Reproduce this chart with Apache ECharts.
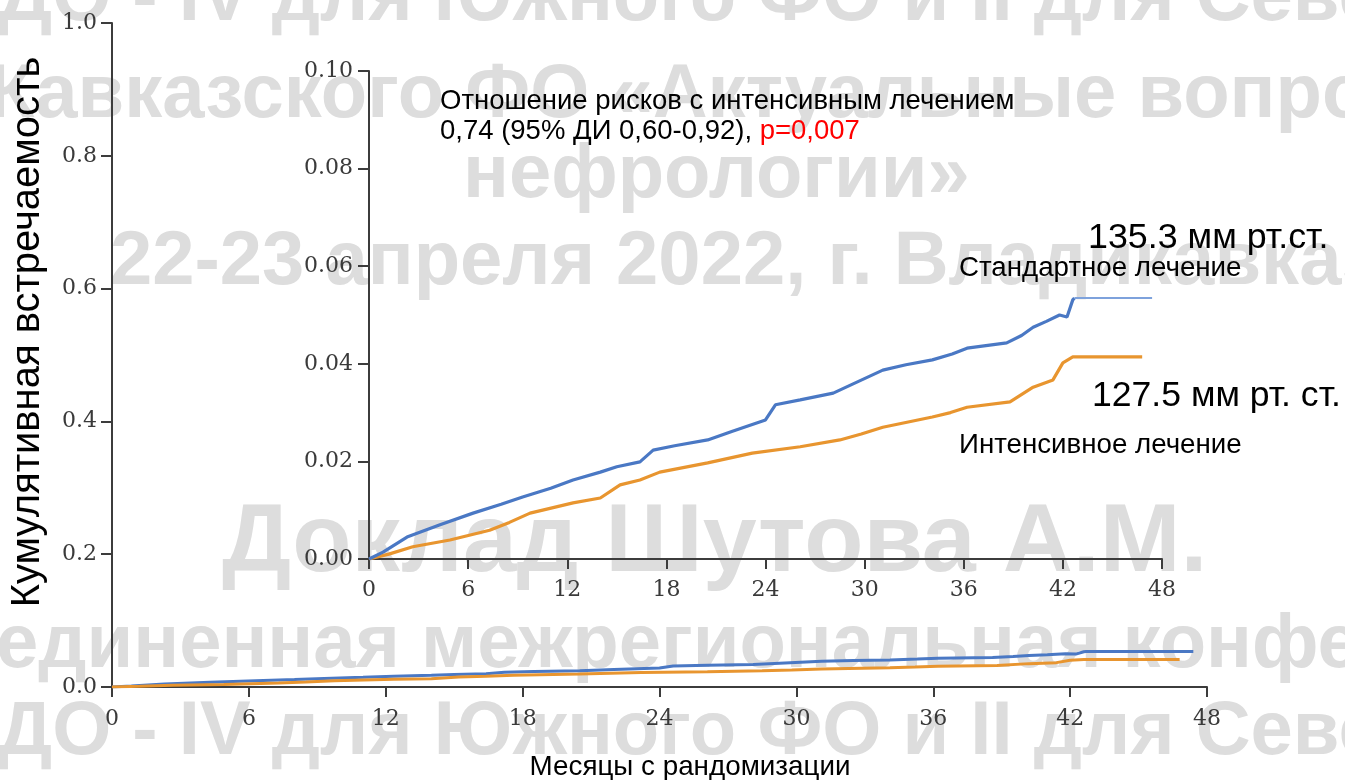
<!DOCTYPE html>
<html>
<head>
<meta charset="utf-8">
<script src="https://cdn.jsdelivr.net/npm/echarts@6/dist/echarts.min.js"></script>
<style>
html,body{margin:0;padding:0;background:#fff;}
#chart{width:1345px;height:780px;}
</style>
</head>
<body>
<div id="chart"></div>
<script>
// ---- data ----
const xTicks = [0, 6, 12, 18, 24, 30, 36, 42, 48];
const mainYTicks = ['0.0', '0.2', '0.4', '0.6', '0.8', '1.0'];
const insetYTicks = ['0.00', '0.02', '0.04', '0.06', '0.08', '0.10'];

const standardMonths = [0, 0.85, 2.3, 4.3, 6.3, 8.0, 9.3, 11.0, 12.35, 14.0, 15.0, 16.4, 17.2, 18.5, 20.5, 22.0, 24.0, 24.6, 26.1, 28.1, 29.5, 31.1, 32.5, 34.1, 35.3, 36.2, 38.6, 39.5, 40.2, 41.0, 41.8, 42.25, 42.6, 42.7];
const standardValues = [0, 0.0014, 0.0045, 0.0070, 0.0094, 0.0112, 0.0127, 0.0145, 0.0162, 0.0178, 0.0189, 0.0199, 0.0223, 0.0232, 0.0244, 0.0262, 0.0285, 0.0316, 0.0326, 0.0340, 0.0362, 0.0387, 0.0398, 0.0408, 0.0420, 0.0432, 0.0443, 0.0458, 0.0475, 0.0487, 0.0500, 0.0496, 0.0531, 0.0535];
const standardEnd = 47.4;

const intensiveMonths = [0, 1.2, 2.65, 4.9, 7.3, 8.5, 9.75, 12.35, 14.0, 15.2, 16.4, 17.6, 20.5, 23.2, 26.1, 28.5, 29.8, 31.1, 34.1, 35.2, 36.2, 38.8, 40.2, 41.4, 42.0, 42.6];
const intensiveValues = [0, 0.0010, 0.0025, 0.0039, 0.0059, 0.0075, 0.0094, 0.0115, 0.0125, 0.0152, 0.0162, 0.0178, 0.0197, 0.0217, 0.0230, 0.0244, 0.0256, 0.0270, 0.0291, 0.0300, 0.0311, 0.0322, 0.0352, 0.0367, 0.0402, 0.0414];
const intensiveEnd = 46.8;

const labelHR = 'Отношение рисков с интенсивным лечением';
const labelCI = '0,74 (95% ДИ 0,60-0,92), ';
const labelP = 'p=0,007';
const labelStdBP = '135.3 мм рт.ст.';
const labelStd = 'Стандартное лечение';
const labelIntBP = '127.5 мм рт. ст.';
const labelInt = 'Интенсивное лечение';
const yName = 'Кумулятивная встречаемость';
const xName = 'Месяцы с рандомизации';

const watermarkLines = [
  'ДО - IV для Южного ФО и II для Северо-',
  'Кавказского ФО «Актуальные вопросы',
  'нефрологии»',
  '22-23 апреля 2022, г. Владикавказ',
  'Доклад Шутова А.М.',
  'единенная межрегиональная конференция',
  'ДО - IV для Южного ФО и II для Северо-'
];

// ---- build ----
function pairs(ms, vs, end) {
  const out = ms.map((m, i) => [m, vs[i]]);
  if (end != null) out.push([end, vs[vs.length - 1]]);
  return out;
}
const stdFull = pairs(standardMonths, standardValues, standardEnd);
const intFull = pairs(intensiveMonths, intensiveValues, intensiveEnd);
const stdBody = pairs(standardMonths, standardValues, null);
const stdTail = [stdFull[stdFull.length - 2], stdFull[stdFull.length - 1]];

const BLUE = '#4a78c4';
const ORANGE = '#e8952f';
const AX = '#3c3c3c';
const tickFont = { fontFamily: 'DejaVu Serif', fontSize: 22, color: '#3a3a3a' };

function xAxisCfg(gi, margin) {
  return {
    type: 'value', gridIndex: gi, min: 0, max: 48, interval: 6,
    axisLine: { show: true, onZero: false, lineStyle: { color: AX, width: 2 } },
    axisTick: { show: true, inside: false, length: 10, lineStyle: { color: AX, width: 2 } },
    axisLabel: Object.assign({ margin: margin, formatter: v => xTicks.includes(v) ? String(v) : '' }, tickFont),
    splitLine: { show: false }
  };
}
function yAxisCfg(gi, max, interval, labels, margin) {
  return {
    type: 'value', gridIndex: gi, min: 0, max: max, interval: interval,
    axisLine: { show: true, onZero: false, lineStyle: { color: AX, width: 2 } },
    axisTick: { show: true, inside: false, length: 11, lineStyle: { color: AX, width: 2 } },
    axisLabel: Object.assign({ margin: margin, formatter: v => labels[Math.round(v / interval)] }, tickFont),
    splitLine: { show: false }
  };
}

// [x, top y, font size]
const wmPos = [[-2, -39, 76], [-12, 58, 76], [463, 138, 76], [110, 225, 76], [222, 496, 97], [-4, 608, 76], [-2, 695, 76]];
const graphics = watermarkLines.map((t, i) => ({
  type: 'text', z: -10, silent: true, x: wmPos[i][0], y: wmPos[i][1],
  style: { text: t, font: 'bold ' + wmPos[i][2] + 'px "Liberation Sans", Arial, sans-serif', fill: '#dddddd', textVerticalAlign: 'top' }
}));

const txt = (t, x, y, size, extra) => ({
  type: 'text', z: 50, x: x, y: y,
  style: Object.assign({ text: t, font: size + 'px "Liberation Sans", Arial, sans-serif', fill: '#000', textVerticalAlign: 'middle' }, extra || {})
});
graphics.push(
  txt(labelHR, 440, 101, 27.5),
  {
    type: 'text', z: 50, x: 440, y: 131,
    style: {
      text: '{a|' + labelCI + '}{b|' + labelP + '}', textVerticalAlign: 'middle',
      rich: {
        a: { fontFamily: 'Liberation Sans', fontSize: 27.5, fill: '#000' },
        b: { fontFamily: 'Liberation Sans', fontSize: 27.5, fill: '#ff0000' }
      }
    }
  },
  txt(labelStdBP, 1088, 238, 35.8),
  txt(labelStd, 959, 268, 27.7),
  txt(labelIntBP, 1092, 396, 35.6),
  txt(labelInt, 959, 445, 27.7),
  { type: 'text', z: 50, x: 28, y: 332, rotation: Math.PI / 2,
    style: { text: yName, font: '40px "Liberation Sans", Arial, sans-serif', fill: '#000', textAlign: 'center', textVerticalAlign: 'middle' } },
  txt(xName, 690, 767, 27.8, { textAlign: 'center' })
);

const lineS = (data, color, xi, width, opacity) => ({
  type: 'line', xAxisIndex: xi, yAxisIndex: xi, data: data, showSymbol: false, symbol: 'none',
  lineStyle: { color: color, width: width, opacity: opacity == null ? 1 : opacity }, z: 5, animation: false, silent: true
});

const option = {
  animation: false,
  grid: [
    { left: 112, top: 23, width: 1095, height: 664 },
    { left: 369, top: 71, width: 793, height: 488 }
  ],
  xAxis: [xAxisCfg(0, 21), xAxisCfg(1, 20)],
  yAxis: [yAxisCfg(0, 1.0, 0.2, mainYTicks, 15), yAxisCfg(1, 0.10, 0.02, insetYTicks, 16)],
  series: [
    lineS(stdFull, BLUE, 0, 3),
    lineS(intFull, ORANGE, 0, 3),
    lineS(intFull, ORANGE, 1, 3.2),
    lineS(stdBody, BLUE, 1, 3.2),
    lineS(stdTail, '#7ea2dc', 1, 2)
  ],
  graphic: graphics
};

const chart = echarts.init(document.getElementById('chart'));
chart.setOption(option);
</script>
</body>
</html>
